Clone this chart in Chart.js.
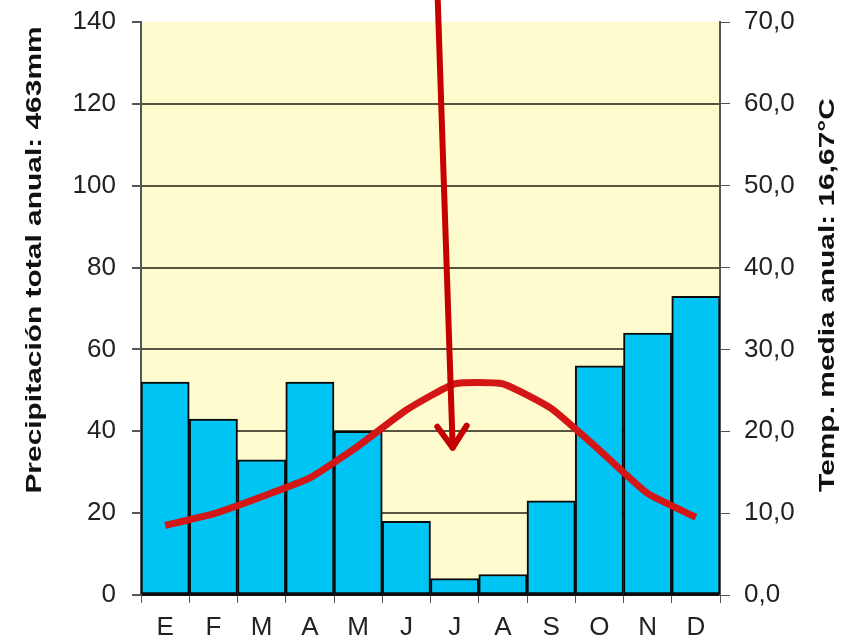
<!DOCTYPE html>
<html>
<head>
<meta charset="utf-8">
<script src="https://cdn.jsdelivr.net/npm/chart.js@4/dist/chart.umd.min.js"></script>
<style>
  html, body { margin: 0; padding: 0; background: #fff; }
  #wrap { width: 849px; height: 643px; }
</style>
</head>
<body>
<div id="wrap"><canvas id="myChart"></canvas></div>
<script>
const months = ["E", "F", "M", "A", "M", "J", "J", "A", "S", "O", "N", "D"];
const precipitation = [52, 43, 33, 52, 40, 18, 4, 5, 23, 56, 64, 73];
const temperature = [8.5, 9.9, 12.0, 14.3, 18.2, 22.6, 25.8, 25.8, 22.8, 17.7, 12.4, 9.5];
const precipTicks = [0, 20, 40, 60, 80, 100, 120, 140];
const tempTicks = [0, 10, 20, 30, 40, 50, 60, 70];
const leftTitle = "Precipitación total anual: 463mm";
const rightTitle = "Temp. media anual: 16,67°C";

const tickFont = { family: "'Liberation Sans', Arial, sans-serif", size: 26 };

// pale yellow plot background
const bgPlugin = {
  id: "bg",
  beforeDraw(chart) {
    const a = chart.chartArea;
    const c = chart.ctx;
    c.save();
    c.fillStyle = "#fefbce";
    c.fillRect(a.left, a.top, a.right - a.left, a.bottom - a.top);
    c.restore();
  },
};

// rotated side titles (both read bottom-to-top), stretched along the text
function sideTitle(c, text, x, y) {
  c.save();
  c.fillStyle = "#111";
  c.font = "bold 22px 'Liberation Sans', Arial, sans-serif";
  c.textAlign = "center";
  c.textBaseline = "middle";
  c.translate(x, y);
  c.rotate(-Math.PI / 2);
  c.scale(1.36, 1);
  c.fillText(text, 0, 0);
  c.restore();
}

const titlesPlugin = {
  id: "titles",
  afterDraw(chart) {
    sideTitle(chart.ctx, leftTitle, 35, 260);
    sideTitle(chart.ctx, rightTitle, 828, 295);
  },
};

// red arrow pointing at July
const arrowPlugin = {
  id: "arrow",
  afterDatasetsDraw(chart) {
    const x = chart.scales.x;
    const y = chart.scales.y;
    const x0 = x.getPixelForValue(5.65);
    const y0 = 0;
    const x1 = x.getPixelForValue(5.96);
    const y1 = y.getPixelForValue(36);
    const c = chart.ctx;
    const ang = Math.atan2(y1 - y0, x1 - x0);
    const len = 26;
    c.save();
    c.strokeStyle = "#c50000";
    c.lineWidth = 6;
    c.lineCap = "round";
    c.lineJoin = "round";
    c.beginPath();
    c.moveTo(x0, y0);
    c.lineTo(x1, y1);
    c.stroke();
    c.beginPath();
    c.moveTo(x1 - len * Math.cos(ang - 0.6), y1 - len * Math.sin(ang - 0.6));
    c.lineTo(x1, y1);
    c.lineTo(x1 - len * Math.cos(ang + 0.6), y1 - len * Math.sin(ang + 0.6));
    c.stroke();
    c.restore();
  },
};

const ctx = document.getElementById("myChart");

new Chart(ctx, {
  data: {
    labels: months,
    datasets: [
      {
        type: "line",
        data: temperature,
        yAxisID: "y1",
        borderColor: "#d41616",
        borderWidth: 7,
        pointRadius: 0,
        tension: 0.15,
        order: 0,
      },
      {
        type: "bar",
        data: precipitation,
        yAxisID: "y",
        backgroundColor: "#00c4f4",
        borderColor: "#0a0a0a",
        borderWidth: 2,
        borderSkipped: false,
        barPercentage: 1,
        categoryPercentage: 1,
        order: 1,
      },
    ],
  },
  plugins: [bgPlugin, titlesPlugin, arrowPlugin],
  options: {
    responsive: true,
    maintainAspectRatio: false,
    animation: false,
    layout: { padding: { top: 22, left: 0, right: 0, bottom: 0 } },
    plugins: {
      legend: { display: false },
      tooltip: { enabled: false },
    },
    scales: {
      x: {
        offset: true,
        grid: {
          offset: true,
          drawOnChartArea: false,
          tickLength: 8,
          tickColor: "#555",
        },
        border: { color: "#111", width: 2 },
        ticks: { color: "#222", font: tickFont, padding: 9, maxRotation: 0 },
        afterFit(scale) { scale.height = 48; },
      },
      y: {
        position: "left",
        min: 0,
        max: 140,
        afterBuildTicks(scale) { scale.ticks = precipTicks.map((v) => ({ value: v })); },
        grid: {
          color: (c) => (c.tick && c.tick.value > 0 && c.tick.value < 140 ? "#555540" : "rgba(0,0,0,0)"),
          lineWidth: 2,
          tickLength: 9,
          tickColor: "#555",
        },
        border: { color: "#555", width: 2 },
        ticks: { color: "#222", font: tickFont, padding: 16 },
        afterFit(scale) {
          scale.width = 141;
          scale.paddingTop = 0;
          scale.paddingBottom = 0;
        },
      },
      y1: {
        position: "right",
        min: 0,
        max: 70,
        afterBuildTicks(scale) { scale.ticks = tempTicks.map((v) => ({ value: v })); },
        grid: { drawOnChartArea: false, tickLength: 10, tickColor: "#555" },
        border: { color: "#555", width: 2 },
        ticks: {
          color: "#222",
          font: tickFont,
          padding: 14,
          callback: (v) => v.toFixed(1).replace(".", ","),
        },
        afterFit(scale) {
          scale.width = 129;
          scale.paddingTop = 0;
          scale.paddingBottom = 0;
        },
      },
    },
  },
});
</script>
</body>
</html>
